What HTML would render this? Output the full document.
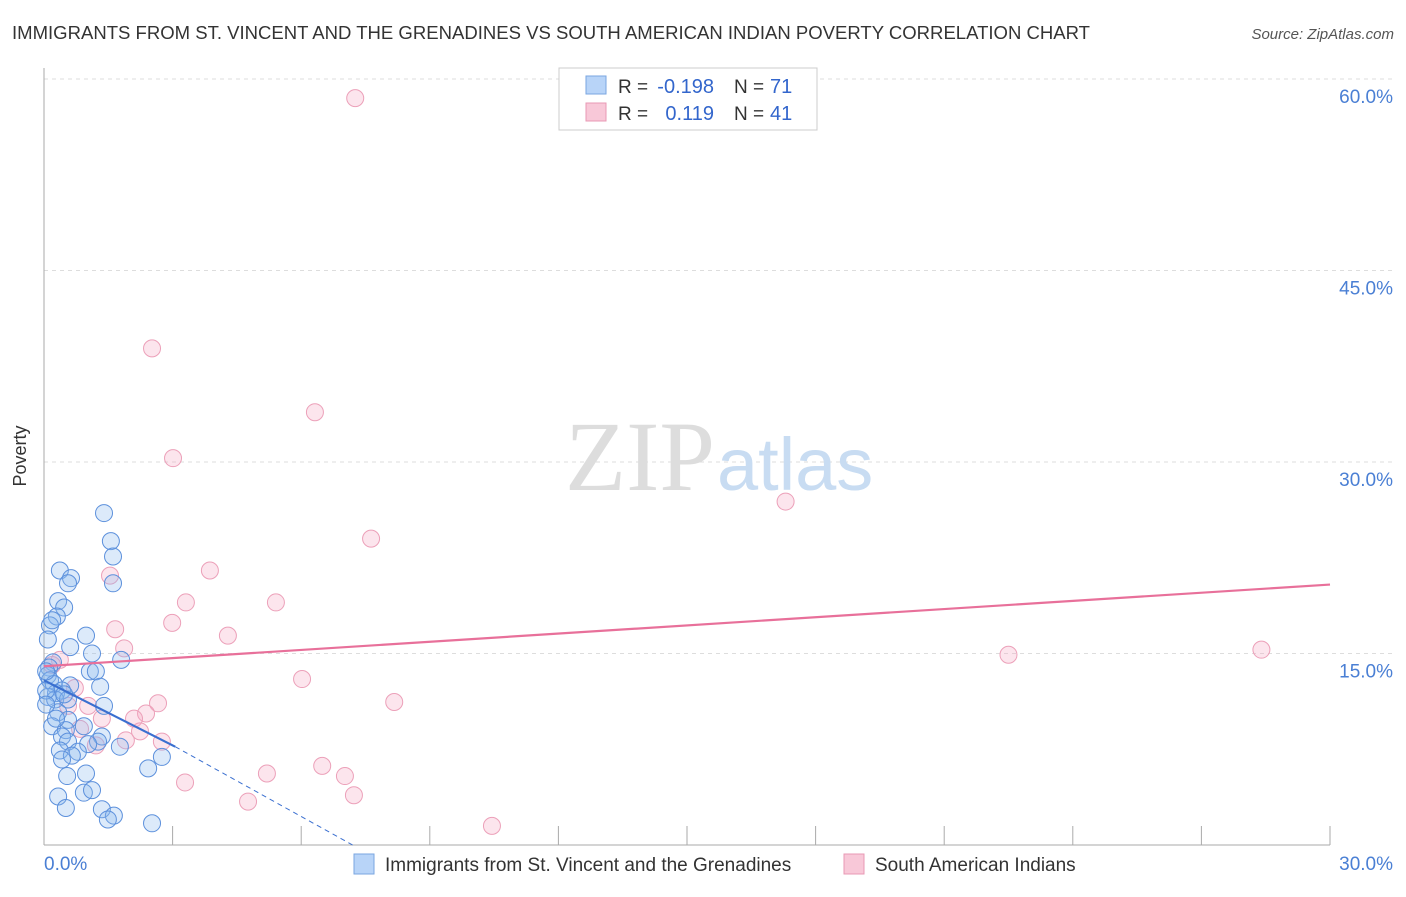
<!DOCTYPE html>
<html><head><meta charset="utf-8"><style>
body{margin:0;background:#fff;font-family:"Liberation Sans",sans-serif;}
</style></head><body>
<svg width="1406" height="892" xmlns="http://www.w3.org/2000/svg" font-family="Liberation Sans, sans-serif">
<text x="12" y="39" font-size="18" fill="#333" textLength="1078" lengthAdjust="spacingAndGlyphs">IMMIGRANTS FROM ST. VINCENT AND THE GRENADINES VS SOUTH AMERICAN INDIAN POVERTY CORRELATION CHART</text>
<text x="1394" y="39" font-size="15" fill="#555" font-style="italic" text-anchor="end">Source: ZipAtlas.com</text>
<g id="grid"></g>
<text x="715" y="490" font-size="100" fill="#ddd" text-anchor="end" font-family="Liberation Serif, serif">ZIP</text>
<text x="717" y="490" font-size="74" fill="#c8dcf2">atlas</text>
<line x1="44" y1="68" x2="44" y2="845" stroke="#aaa"/>
<line x1="44" y1="845" x2="1330" y2="845" stroke="#aaa"/>
<text x="26" y="456" font-size="18" fill="#333" transform="rotate(-90 26 456)" text-anchor="middle">Poverty</text>
<g id="ticks"></g>
<g id="pts"></g>
<g id="trends"></g>
<g>
<rect x="559" y="68" width="258" height="62" fill="#fff" stroke="#ccc"/>
<rect x="586" y="76" width="20" height="18" fill="#b8d4f8" stroke="#7aa6e0"/>
<rect x="586" y="103" width="20" height="18" fill="#f8c8d8" stroke="#e899b4"/>
<text x="618" y="93" font-size="19" fill="#333">R =</text>
<text x="714" y="93" font-size="20" fill="#3366cc" text-anchor="end">-0.198</text>
<text x="734" y="93" font-size="19" fill="#333">N =</text>
<text x="770" y="93" font-size="20" fill="#3366cc">71</text>
<text x="618" y="120" font-size="19" fill="#333">R =</text>
<text x="714" y="120" font-size="20" fill="#3366cc" text-anchor="end">0.119</text>
<text x="734" y="120" font-size="19" fill="#333">N =</text>
<text x="770" y="120" font-size="20" fill="#3366cc">41</text>
</g>
<g>
<rect x="354" y="854" width="20" height="20" fill="#b8d4f8" stroke="#7aa6e0"/>
<text x="385" y="871" font-size="19" fill="#333">Immigrants from St. Vincent and the Grenadines</text>
<rect x="844" y="854" width="20" height="20" fill="#f8c8d8" stroke="#e899b4"/>
<text x="875" y="871" font-size="19" fill="#333">South American Indians</text>
</g>
</svg>
<script>
const blueX=[1.40,1.56,1.61,1.61,0.37,0.63,0.56,0.33,0.47,0.30,0.14,0.19,0.09,0.98,0.61,1.12,1.80,0.21,0.12,1.07,1.21,0.09,0.14,0.23,0.61,1.31,0.42,0.28,0.09,0.26,0.56,1.40,0.33,0.56,0.19,0.93,0.51,0.42,1.35,0.56,1.26,1.03,1.77,0.37,0.79,0.65,0.42,2.75,2.43,0.98,0.54,0.33,0.93,1.12,0.51,1.35,1.63,1.49,2.52,0.05,0.05,0.47,0.28,0.05];
const blueY=[26.0,23.8,22.6,20.5,21.5,20.9,20.5,19.1,18.6,17.9,17.2,17.6,16.1,16.4,15.5,15.0,14.5,14.3,13.9,13.6,13.6,13.3,12.9,12.6,12.5,12.4,12.1,11.9,11.6,11.4,11.4,10.9,10.4,9.8,9.3,9.3,9.0,8.5,8.5,8.1,8.1,7.9,7.7,7.4,7.3,7.0,6.7,6.9,6.0,5.6,5.4,3.8,4.1,4.3,2.9,2.8,2.3,2.0,1.7,13.6,12.1,11.8,9.9,11.0];
const pinkX=[7.26,2.52,6.32,3.01,17.3,7.63,3.87,1.54,3.31,5.41,2.99,1.66,4.29,22.5,28.4,1.87,0.37,6.02,0.72,2.66,8.17,1.03,2.38,1.35,2.10,0.84,2.24,1.91,2.75,1.21,5.20,6.49,7.02,3.29,7.23,4.76,10.45,0.19,0.56];
const pinkY=[58.5,38.9,33.9,30.3,26.9,24.0,21.5,21.1,19.0,19.0,17.4,16.9,16.4,14.9,15.3,15.4,14.5,13.0,12.3,11.1,11.2,10.9,10.3,9.9,9.9,9.1,8.9,8.2,8.1,7.8,5.6,6.2,5.4,4.9,3.9,3.4,1.5,14.1,10.9];
const yTicks=[15,30,45,60];
const xTicksPct=[0,3,6,9,12,15,18,21,24,27,30];
const blueTrend=[[0,12.9],[3.06,7.7]];
const blueDash=[[3.06,7.7],[7.2,0]];
const pinkTrend=[[0,14.0],[30,20.4]];
const NS="http://www.w3.org/2000/svg";
const sx=v=>44+v/30*1286, sy=v=>845-v/60*766;
function mk(t,a,p){const e=document.createElementNS(NS,t);for(const k in a)e.setAttribute(k,a[k]);p.appendChild(e);return e;}
const grid=document.getElementById('grid'),ticks=document.getElementById('ticks');
yTicks.forEach(v=>{const l=mk('line',{x1:44,x2:1394,y1:sy(v),y2:sy(v),stroke:'#ddd','stroke-dasharray':'4,4'},grid);


const t=mk('text',{x:1393,y:sy(v)+24,'font-size':19,fill:'#4a7fd4','text-anchor':'end'},ticks);t.textContent=v.toFixed(1)+'%';

});
xTicksPct.slice(1).forEach(v=>{const l=mk('line',{x1:sx(v),x2:sx(v),y1:826,y2:845,stroke:'#aaa'},ticks);

});
[[0,'start',44],[30,'end',1393]].forEach(([v,a,x])=>{const t=mk('text',{x:x,y:870,'font-size':19,fill:'#4a7fd4','text-anchor':a},ticks);t.textContent=v.toFixed(1)+'%';

});
const pts=document.getElementById('pts');
pinkX.forEach((x,i)=>{const c=mk('circle',{cx:sx(x),cy:sy(pinkY[i]),r:8.5,fill:'rgba(244,170,195,0.3)',stroke:'#eca0b9','stroke-width':1},pts);

});
blueX.forEach((x,i)=>{const c=mk('circle',{cx:sx(x),cy:sy(blueY[i]),r:8.5,fill:'rgba(140,185,240,0.3)',stroke:'#5c90dc','stroke-width':1},pts);

});
const tr=document.getElementById('trends');
let l=mk('line',{x1:sx(pinkTrend[0][0]),y1:sy(pinkTrend[0][1]),x2:sx(pinkTrend[1][0]),y2:sy(pinkTrend[1][1]),stroke:'#e8709a','stroke-width':2.2},tr);


l=mk('line',{x1:sx(blueTrend[0][0]),y1:sy(blueTrend[0][1]),x2:sx(blueTrend[1][0]),y2:sy(blueTrend[1][1]),stroke:'#3a6fd0','stroke-width':2.2},tr);


l=mk('line',{x1:sx(blueDash[0][0]),y1:sy(blueDash[0][1]),x2:sx(blueDash[1][0]),y2:sy(blueDash[1][1]),stroke:'#3a6fd0','stroke-width':1,'stroke-dasharray':'5,4'},tr);


</script>
</body></html>
